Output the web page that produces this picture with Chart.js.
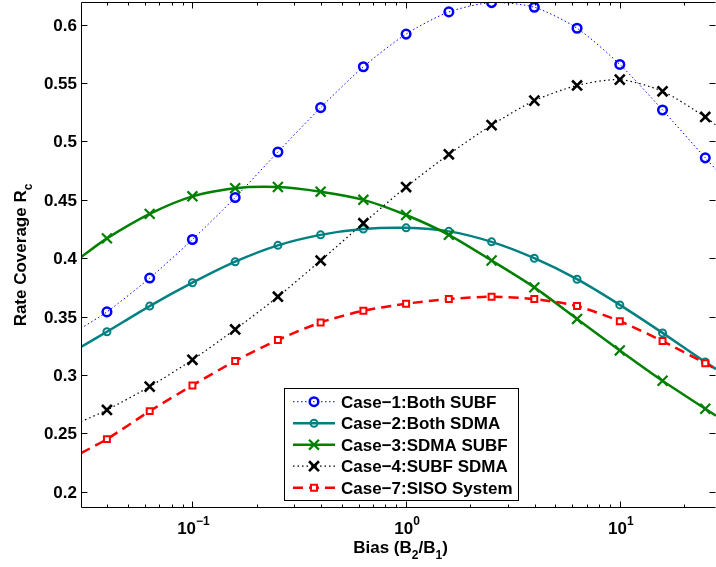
<!DOCTYPE html>
<html lang="en">
<head>
<meta charset="UTF-8">
<title>Rate Coverage vs Bias</title>
<script src="https://cdn.jsdelivr.net/npm/chart.js"></script>
<style>
    html, body { margin: 0; padding: 0; background: #fff; }
    #wrap { width: 716px; height: 567px; }
</style>
</head>
<body>
<div id="wrap"><canvas id="chart" width="716" height="567"></canvas></div>
<script>
// Bias B2/B1 at 10^(k/5); first and last entries sit on the axis edges (line only, no marker)
const bias = [0.0301, 0.0398, 0.0631, 0.1, 0.1585, 0.2512, 0.3981, 0.631, 1, 1.585, 2.512, 3.981, 6.31, 10, 15.85, 25.12, 28.2];

const case1 = [0.340, 0.354, 0.383, 0.416, 0.452, 0.491, 0.529, 0.564, 0.592, 0.611, 0.619, 0.615, 0.597, 0.566, 0.527, 0.486, 0.476];
const case2 = [0.324, 0.337, 0.359, 0.379, 0.397, 0.411, 0.420, 0.425, 0.426, 0.423, 0.414, 0.400, 0.382, 0.360, 0.336, 0.311, 0.305];
const case3 = [0.401, 0.417, 0.438, 0.453, 0.460, 0.461, 0.457, 0.450, 0.437, 0.420, 0.398, 0.375, 0.348, 0.321, 0.295, 0.271, 0.265];
const case4 = [0.260, 0.270, 0.290, 0.313, 0.339, 0.367, 0.398, 0.430, 0.461, 0.489, 0.514, 0.535, 0.548, 0.553, 0.543, 0.521, 0.514];
const case7 = [0.233, 0.245, 0.269, 0.291, 0.312, 0.330, 0.345, 0.355, 0.361, 0.365, 0.367, 0.365, 0.359, 0.346, 0.329, 0.310, 0.305];

const seriesNames = ['Case\u22121:Both SUBF', 'Case\u22122:Both SDMA', 'Case\u22123:SDMA SUBF', 'Case\u22124:SUBF SDMA', 'Case\u22127:SISO System'];
const seriesValues = [case1, case2, case3, case4, case7];

const yTicks = [0.2, 0.25, 0.3, 0.35, 0.4, 0.45, 0.5, 0.55, 0.6];
const yTickLabels = ['0.2', '0.25', '0.3', '0.35', '0.4', '0.45', '0.5', '0.55', '0.6'];
const xDecades = [0.1, 1, 10];
const xDecadeExponents = ['\u22121', '0', '1'];

const xTitle = [['Bias (B', 0], ['2', 1], ['/B', 0], ['1', 1], [')', 0]];
const yTitle = [['Rate Coverage R', 0], ['c', 1]];

// line / marker look of each case
const looks = [
    { color: '#0000ff', width: 1,   dash: [1.5, 2.5], point: 'circle',   r: 4.3, pw: 2.5, fill: 'rgba(0,0,0,0)' },
    { color: '#008080', width: 2.5, dash: [],         point: 'circle',   r: 3.5, pw: 2,   fill: 'rgba(0,0,0,0)' },
    { color: '#008000', width: 2.5, dash: [],         point: 'crossRot', r: 7,   pw: 2.2, fill: 'rgba(0,0,0,0)' },
    { color: '#000000', width: 1.2, dash: [1.5, 3],   point: 'crossRot', r: 7,   pw: 2.6, fill: 'rgba(0,0,0,0)' },
    { color: '#ff0000', width: 2.5, dash: [10, 6],    point: 'rect',     r: 4.2, pw: 2,   fill: '#ffffff' }
];

const FONT = 'bold 17px "Liberation Sans", Arial, sans-serif';
const SMALL = 'bold 12px "Liberation Sans", Arial, sans-serif';

const datasets = seriesValues.map((vals, s) => {
    const lk = looks[s];
    const last = bias.length - 1;
    return {
        label: seriesNames[s],
        data: bias.map((b, i) => ({ x: b, y: vals[i] })),
        borderColor: lk.color,
        borderWidth: lk.width,
        borderDash: lk.dash,
        tension: 0.25,
        pointStyle: lk.point,
        pointRadius: ctx => (ctx.dataIndex === 0 || ctx.dataIndex === last) ? 0 : lk.r,
        pointBorderWidth: lk.pw,
        pointBorderColor: lk.color,
        pointBackgroundColor: lk.fill,
        order: seriesValues.length - s
    };
});

// draws a run of [text, isScript] pieces; script pieces are lowered (sub) or raised (sup)
function drawPieces(ctx, pieces, x, y, shift) {
    let cx = x;
    pieces.forEach(([t, scr]) => {
        ctx.font = scr ? SMALL : FONT;
        ctx.fillText(t, cx, scr ? y + shift : y);
        cx += ctx.measureText(t).width;
    });
}
function piecesWidth(ctx, pieces) {
    let w = 0;
    pieces.forEach(([t, scr]) => {
        ctx.font = scr ? SMALL : FONT;
        w += ctx.measureText(t).width;
    });
    return w;
}

const axesPlugin = {
    id: 'matlabAxes',
    afterDraw(chart) {
        const ctx = chart.ctx;
        const a = chart.chartArea;
        const xs = chart.scales.x, ys = chart.scales.y;
        const L = Math.round(a.left) + 0.5, R = Math.round(a.right) - 0.5;
        const T = Math.round(a.top) + 0.5, B = Math.round(a.bottom) - 0.5;

        ctx.save();
        ctx.strokeStyle = '#000';
        ctx.lineWidth = 1;
        ctx.setLineDash([]);

        // box
        ctx.beginPath();
        ctx.moveTo(R, T); ctx.lineTo(L, T); ctx.lineTo(L, B); ctx.lineTo(R, B);
        ctx.stroke();

        // y ticks, inward on both sides
        ctx.beginPath();
        yTicks.forEach(v => {
            const py = Math.round(ys.getPixelForValue(v)) + 0.5;
            ctx.moveTo(L, py); ctx.lineTo(L + 6, py);
            ctx.moveTo(R, py); ctx.lineTo(R - 6, py);
        });
        // x ticks: decades long, 2..9 short
        for (let d = 0.01; d <= 100; d *= 10) {
            for (let k = 1; k <= 9; k++) {
                const v = d * k;
                if (v < xs.min || v > xs.max) continue;
                const px = Math.round(xs.getPixelForValue(v)) + 0.5;
                const len = k === 1 ? 6 : 3;
                ctx.moveTo(px, B); ctx.lineTo(px, B - len);
                ctx.moveTo(px, T); ctx.lineTo(px, T + len);
            }
        }
        ctx.stroke();

        // tick labels
        ctx.fillStyle = '#000';
        ctx.font = FONT;
        ctx.textAlign = 'right';
        ctx.textBaseline = 'alphabetic';
        yTicks.forEach((v, i) => {
            ctx.fillText(yTickLabels[i], a.left - 4, ys.getPixelForValue(v) + 6);
        });
        ctx.textAlign = 'left';
        xDecades.forEach((v, i) => {
            const pieces = [['10', 0], [xDecadeExponents[i], 1]];
            const w = piecesWidth(ctx, pieces);
            drawPieces(ctx, pieces, xs.getPixelForValue(v) - w / 2 + 1, 534, -9);
        });

        // axis titles
        const wx = piecesWidth(ctx, xTitle);
        drawPieces(ctx, xTitle, (a.left + a.right) / 2 - wx / 2 + 2, 553, 6);
        ctx.save();
        ctx.translate(25.5, (a.top + a.bottom) / 2);
        ctx.rotate(-Math.PI / 2);
        const wy = piecesWidth(ctx, yTitle);
        drawPieces(ctx, yTitle, -wy / 2, 0, 6);
        ctx.restore();

        // legend
        const box = { x: 284.5, y: 388.5, w: 234, h: 112 };
        ctx.fillStyle = '#fff';
        ctx.fillRect(box.x, box.y, box.w, box.h);
        ctx.strokeStyle = '#000';
        ctx.lineWidth = 1;
        ctx.strokeRect(box.x, box.y, box.w, box.h);
        chart.data.datasets.forEach((ds, i) => {
            const lk = looks[i];
            const cy = 401.7 + i * 21.5;
            ctx.strokeStyle = lk.color;
            ctx.lineWidth = lk.width;
            ctx.setLineDash(lk.dash);
            ctx.beginPath();
            ctx.moveTo(293, cy); ctx.lineTo(335, cy);
            ctx.stroke();
            ctx.setLineDash([]);
            ctx.lineWidth = lk.pw;
            ctx.fillStyle = lk.fill;
            Chart.helpers.drawPoint(ctx, { pointStyle: lk.point, radius: lk.r, borderWidth: lk.pw, rotation: 0 }, 314, cy);
            ctx.fillStyle = '#000';
            ctx.font = FONT;
            ctx.textAlign = 'left';
            ctx.fillText(ds.label, 341, cy + 6);
        });
        ctx.restore();
    }
};

new Chart(document.getElementById('chart'), {
    type: 'line',
    data: { datasets: datasets },
    plugins: [axesPlugin],
    options: {
        responsive: false,
        animation: false,
        events: [],
        layout: { padding: { top: 2, right: 0, left: 0, bottom: 0 }, autoPadding: false },
        plugins: { legend: { display: false }, tooltip: { enabled: false } },
        scales: {
            x: {
                type: 'logarithmic',
                min: 0.0301,
                max: 28.2,
                grid: { display: false },
                border: { display: false },
                ticks: { display: false },
                afterFit: s => { s.height = 59; }
            },
            y: {
                type: 'linear',
                min: 0.186,
                max: 0.6195,
                grid: { display: false },
                border: { display: false },
                ticks: { display: false },
                afterFit: s => { s.width = 81; }
            }
        }
    }
});
</script>
</body>
</html>
